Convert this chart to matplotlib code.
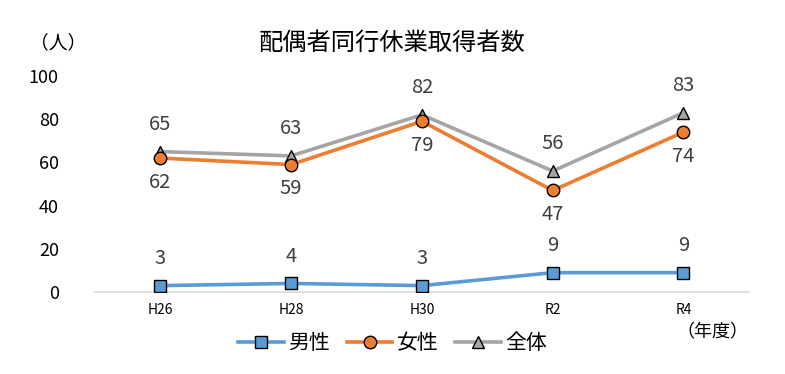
import numpy as np
import matplotlib.pyplot as plt

plt.rcParams['font.family'] = ['Noto Sans CJK JP', 'DejaVu Sans']

years = ['H26', 'H28', 'H30', 'R2', 'R4']
male = [3, 4, 3, 9, 9]
female = [62, 59, 79, 47, 74]
total = [65, 63, 82, 56, 83]

fig = plt.figure(figsize=(7.85, 3.74), dpi=100)
ax = fig.add_axes([0.121, 0.219, 0.833, 0.578])
x = np.arange(len(years))

ax.plot(x, total, color='#A5A5A5', lw=2.6, marker='^', ms=9, mfc='#A5A5A5', mec='black', mew=1.0, label='全体', zorder=3)
ax.plot(x, female, color='#ED7D31', lw=2.6, marker='o', ms=9, mfc='#ED7D31', mec='black', mew=1.0, label='女性', zorder=4)
ax.plot(x, male, color='#5B9BD5', lw=2.6, marker='s', ms=9, mfc='#5B9BD5', mec='black', mew=1.0, label='男性', zorder=5)

lab = dict(ha='center', fontsize=14.5, color='#404040')
for i in range(len(years)):
    ax.annotate(str(total[i]), (x[i], total[i]), xytext=(0, 12), textcoords='offset points', va='bottom', **lab)
    ax.annotate(str(female[i]), (x[i], female[i]), xytext=(0, -10), textcoords='offset points', va='top', **lab)
    ax.annotate(str(male[i]), (x[i], male[i]), xytext=(0, 12), textcoords='offset points', va='bottom', **lab)

ax.set_xlim(-0.5, 4.5)
ax.set_ylim(0, 100)
ax.set_yticks(range(0, 101, 20))
ax.set_xticks(x)
ax.set_xticklabels(years, fontsize=10)
ax.tick_params(axis='y', labelsize=13, length=0, pad=26)
ax.tick_params(axis='x', length=0, pad=8)
for s in ['top', 'right', 'left']:
    ax.spines[s].set_visible(False)
ax.spines['bottom'].set_color('#D9D9D9')
ax.spines['bottom'].set_linewidth(1.2)

fig.text(0.5, 0.885, '配偶者同行休業取得者数', ha='center', va='center', fontsize=17.5)
fig.text(0.074, 0.885, '（人）', ha='center', va='center', fontsize=13.5)
fig.text(0.907, 0.112, '（年度）', ha='center', va='center', fontsize=13)

h, l = ax.get_legend_handles_labels()
fig.legend(h[::-1], l[::-1], loc='center', bbox_to_anchor=(0.5, 0.083), ncol=3, frameon=False,
           fontsize=15, handlelength=2.2, columnspacing=0.8, handletextpad=0.2, borderpad=0)

fig.savefig('out.png', dpi=100)
